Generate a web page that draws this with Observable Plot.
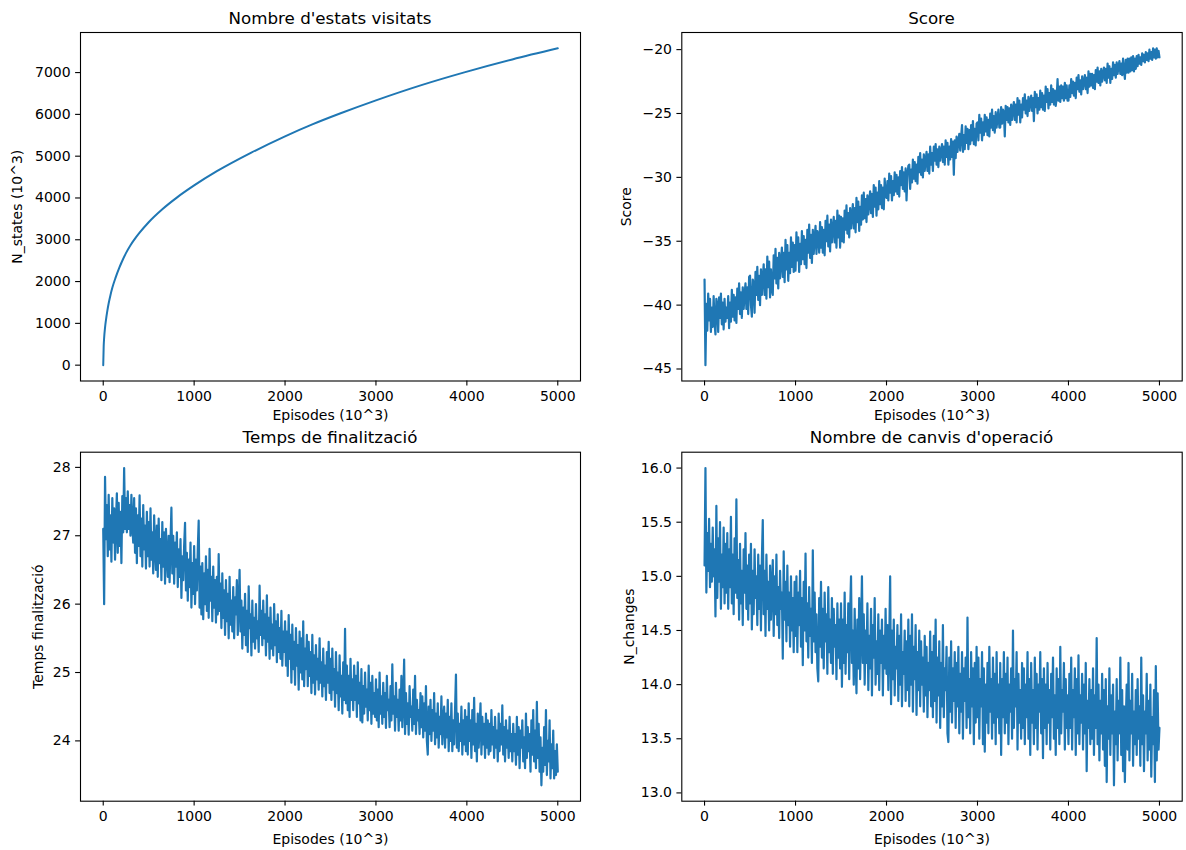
<!DOCTYPE html>
<html>
<head>
<meta charset="utf-8">
<script src="https://cdn.jsdelivr.net/npm/d3@7"></script>
<script src="https://cdn.jsdelivr.net/npm/@observablehq/plot@0.6"></script>
<style>
  body { margin: 0; background: #fff; }
  #page { position: relative; width: 1186px; height: 850px; overflow: hidden; background: #fff; font-family: "DejaVu Sans", sans-serif; }
  .title { position: absolute; font-size: 16.7px; line-height: 1; white-space: nowrap; transform: translateX(-50%); color: #000; }
  .panel { position: absolute; }
</style>
</head>
<body>
<div id="page"></div>
<script>
// ---------- data ----------
const xTicks = [0, 1000, 2000, 3000, 4000, 5000];
const xLabel = "Episodes (10^3)";

// Panel 1: Nombre d'estats visitats
const statesEpisodes = [0, 5, 10, 20, 30, 45, 60, 80, 100, 137, 175, 200, 250, 300, 344, 400, 500, 650, 813, 1000, 1250, 1629, 2000, 2300, 2604, 3000, 3500, 3972, 4500, 5000];
const statesValues   = [0, 450, 650, 900, 1080, 1300, 1480, 1680, 1850, 2100, 2320, 2450, 2680, 2870, 3010, 3170, 3420, 3730, 4015, 4300, 4640, 5085, 5475, 5760, 6020, 6335, 6700, 7005, 7315, 7580];
const statesTicks = [0, 1000, 2000, 3000, 4000, 5000, 6000, 7000];

// Panel 2: Score (one value every 10 episodes, 0..5000)
const scoreValues = [
  -38.0, -44.7, -39.9, -42.0, -39.1, -41.2, -39.5, -42.1, -40.2, -41.7, -39.3, -41.4, -42.3, -39.5, -40.0, -42.1, -39.4, -41.0, -39.1, -41.5, -39.8, -41.9, -39.5, -41.3, -40.2,
  -41.0, -39.3, -41.8, -39.8, -41.3, -38.8, -40.9, -39.2, -41.2, -39.4, -41.4, -38.7, -40.3, -38.3, -40.7, -39.0, -41.0, -38.6, -40.3, -39.2, -38.3, -40.3, -38.6, -40.7, -37.8,
  -37.7, -40.0, -40.9, -38.0, -38.3, -40.6, -37.4, -39.2, -37.0, -39.6, -37.7, -40.0, -37.2, -39.2, -37.9, -36.8, -39.2, -37.2, -39.5, -36.2, -38.6, -36.6, -39.4, -37.2, -38.8,
  -39.2, -36.1, -37.9, -35.6, -38.3, -36.3, -38.7, -35.9, -37.9, -36.6, -35.5, -37.8, -35.9, -38.2, -34.9, -37.2, -35.3, -38.1, -35.9, -37.5, -34.7, -37.0, -35.1, -37.4, -35.3,
  -37.3, -34.3, -36.5, -34.7, -37.4, -35.2, -36.8, -34.2, -36.4, -34.6, -36.8, -34.9, -37.1, -34.1, -35.9, -33.7, -36.3, -34.5, -36.7, -34.1, -36.0, -34.8, -33.8, -36.0, -34.2,
  -34.5, -35.9, -33.5, -35.5, -33.9, -35.9, -34.1, -36.1, -33.4, -35.0, -33.0, -35.4, -33.7, -35.8, -33.3, -35.1, -34.0, -33.1, -35.1, -33.4, -35.5, -32.6, -34.7, -33.0, -35.5,
  -33.1, -35.0, -33.2, -35.1, -32.6, -34.1, -32.2, -34.4, -32.8, -34.7, -32.4, -34.0, -33.0, -32.1, -34.0, -32.4, -34.3, -31.6, -33.5, -31.9, -34.2, -32.3, -33.7, -31.4, -33.3,
  -31.2, -33.2, -31.7, -33.5, -31.4, -32.9, -31.9, -31.1, -32.8, -31.3, -33.1, -30.6, -32.3, -30.8, -33.0, -31.2, -32.5, -30.3, -32.1, -30.6, -32.4, -30.8, -32.5, -30.1, -31.5,
  -31.6, -30.3, -31.8, -29.7, -31.2, -29.9, -31.8, -30.3, -31.4, -29.6, -31.1, -29.8, -31.3, -30.0, -31.5, -29.5, -30.6, -29.2, -30.9, -29.6, -31.1, -29.3, -31.8, -29.8, -29.1,
  -29.0, -30.9, -29.4, -30.4, -28.6, -30.1, -28.8, -30.3, -29.0, -30.5, -28.4, -29.6, -28.1, -29.8, -28.6, -30.0, -28.2, -29.5, -28.7, -28.0, -29.5, -28.2, -29.7, -27.6, -29.0,
  -28.1, -29.5, -27.6, -28.7, -27.4, -29.0, -27.8, -29.2, -27.6, -28.7, -28.0, -27.4, -28.8, -27.6, -29.0, -27.1, -28.4, -27.3, -29.0, -27.6, -28.6, -27.0, -28.4, -27.2, -29.8,
  -27.1, -28.5, -26.8, -28.0, -27.2, -26.6, -27.9, -26.8, -25.9, -28.0, -26.7, -27.8, -26.0, -27.3, -26.2, -27.8, -26.3, -27.4, -25.9, -27.1, -25.6, -27.4, -26.2, -27.5, -25.8,
  -25.7, -27.1, -25.1, -26.5, -25.4, -27.1, -25.7, -26.7, -25.1, -26.4, -25.3, -26.7, -25.5, -26.8, -25.0, -26.1, -24.7, -26.3, -25.2, -26.5, -24.9, -26.1, -25.4, -24.7, -26.1,
  -26.1, -24.5, -25.8, -24.7, -24.9, -26.8, -24.4, -25.5, -24.5, -25.7, -24.6, -25.9, -24.3, -25.5, -24.7, -24.1, -25.5, -24.3, -25.7, -23.8, -25.1, -24.0, -25.7, -24.3, -25.3,
  -23.8, -24.7, -23.5, -25.0, -24.0, -25.2, -23.7, -24.8, -24.1, -23.6, -24.8, -23.8, -25.6, -23.3, -24.5, -23.5, -25.0, -23.8, -24.7, -23.2, -24.5, -23.4, -24.7, -23.6, -24.8,
  -22.9, -24.1, -23.1, -24.6, -23.4, -24.3, -22.8, -24.1, -23.1, -24.3, -23.2, -24.4, -23.8, -22.3, -24.0, -22.9, -24.1, -22.8, -23.8, -22.9, -24.0, -22.6, -23.8, -22.8, -24.0,
  -24.0, -22.8, -23.7, -22.3, -23.4, -22.5, -23.6, -22.6, -23.8, -22.2, -23.1, -22.0, -23.3, -22.4, -23.5, -22.1, -23.1, -22.5, -22.0, -23.1, -22.2, -23.4, -21.7, -22.9, -21.9,
  -22.8, -21.9, -23.0, -22.0, -23.1, -21.6, -22.5, -21.4, -22.6, -21.7, -22.8, -21.5, -22.5, -21.9, -21.4, -22.4, -21.5, -22.6, -21.1, -22.2, -21.3, -22.6, -21.5, -22.3, -21.0,
  -22.0, -21.2, -22.2, -21.0, -21.9, -21.3, -20.9, -21.9, -21.1, -22.0, -20.7, -21.6, -22.3, -20.8, -21.8, -20.7, -21.8, -20.7, -21.7, -20.6, -21.6, -20.5, -21.7, -20.7, -21.5,
  -20.5, -21.3, -20.4, -21.1, -20.6, -21.2, -20.3, -20.9, -20.4, -21.0, -20.2, -20.8, -20.3, -20.9, -20.0, -20.7, -20.2, -20.8, -19.9, -20.6, -20.0, -20.7, -19.9, -20.6, -20.1,
  -20.6
];
const scoreTicks = [-45, -40, -35, -30, -25, -20];

// Panel 3: Temps de finalització (one value every 10 episodes)
const tempsValues = [
  27.10, 26.00, 27.86, 26.95, 27.45, 26.70, 27.60, 26.80, 27.30, 26.62, 27.55, 26.90, 27.40, 26.65, 27.20, 27.62, 26.75, 27.48, 26.85, 27.35, 26.60, 27.58, 27.05, 27.99, 27.10,
  27.55, 27.05, 27.65, 27.10, 27.45, 27.00, 27.60, 27.15, 26.90, 27.55, 26.75, 27.40, 26.60, 27.30, 26.85, 27.59, 26.70, 27.25, 26.55, 27.45, 26.80, 27.15, 26.52, 27.35, 26.70,
  27.20, 26.55, 27.40, 26.65, 27.05, 26.45, 27.30, 26.80, 26.50, 27.15, 26.40, 27.25, 26.60, 26.95, 26.35, 27.20, 26.55, 27.05, 26.30, 27.10, 26.70, 26.40, 27.00, 26.32, 26.90,
  27.41, 26.45, 27.00, 26.30, 26.90, 26.55, 27.05, 26.25, 26.80, 26.40, 26.95, 26.09, 26.70, 26.35, 26.85, 27.19, 26.20, 26.75, 26.05, 26.65, 26.25, 26.90, 25.95, 26.60, 26.15,
  26.85, 26.00, 26.65, 26.20, 26.80, 27.22, 25.95, 26.55, 25.85, 26.60, 25.78, 26.45, 26.00, 26.70, 25.90, 26.50, 25.80, 26.81, 26.05, 26.40, 25.75, 26.55, 25.95, 26.35, 25.73,
  26.40, 25.85, 26.73, 25.90, 26.30, 25.65, 26.45, 25.80, 26.20, 25.55, 26.35, 25.75, 26.15, 25.50, 26.40, 25.70, 26.05, 25.60, 26.25, 25.50, 26.10, 25.85, 26.35, 25.55, 26.00,
  26.50, 25.60, 26.05, 25.35, 25.95, 25.55, 26.15, 25.40, 25.90, 25.30, 26.26, 25.65, 25.85, 25.25, 26.05, 25.45, 25.80, 25.35, 26.00, 25.50, 25.75, 25.30, 26.27, 25.55, 25.90,
  25.40, 26.05, 25.50, 25.85, 25.25, 26.13, 25.45, 25.80, 25.20, 25.95, 25.35, 25.70, 25.25, 26.00, 25.40, 25.75, 25.15, 25.85, 25.30, 25.65, 25.20, 25.90, 25.10, 25.60, 25.30,
  25.75, 25.10, 25.60, 24.95, 25.84, 25.20, 25.55, 24.85, 25.70, 25.05, 25.45, 24.82, 25.65, 25.10, 25.40, 24.75, 25.60, 25.00, 25.50, 24.90, 25.75, 24.80, 25.35, 25.05, 25.55,
  24.80, 25.45, 24.95, 25.30, 24.70, 25.55, 24.85, 25.25, 24.68, 25.40, 24.90, 25.20, 24.75, 25.50, 24.85, 25.15, 24.65, 25.35, 24.80, 25.10, 24.60, 25.30, 24.85, 25.45, 24.70,
  25.20, 24.60, 25.35, 24.75, 25.05, 24.50, 25.30, 24.70, 25.00, 24.45, 25.25, 24.65, 24.95, 24.40, 25.15, 24.60, 25.64, 24.55, 25.10, 24.45, 24.95, 24.35, 25.20, 24.60, 24.90,
  24.45, 25.10, 24.60, 24.95, 24.35, 25.15, 24.55, 24.85, 24.30, 25.05, 24.27, 24.80, 24.40, 25.00, 24.50, 24.75, 24.30, 25.10, 24.45, 24.85, 24.25, 24.95, 24.40, 24.70, 24.35,
  24.90, 24.30, 24.75, 24.20, 25.00, 24.40, 24.65, 24.25, 24.85, 24.35, 24.70, 24.19, 24.95, 24.45, 24.60, 24.20, 24.80, 24.30, 25.12, 24.40, 24.65, 24.15, 24.85, 24.35, 24.60,
  24.15, 24.75, 24.30, 24.95, 24.20, 24.60, 25.19, 24.10, 24.70, 24.25, 24.55, 24.09, 24.80, 24.35, 24.50, 24.15, 24.75, 24.25, 24.95, 24.10, 24.60, 24.30, 24.45, 24.10, 24.70,
  24.20, 24.65, 24.05, 24.55, 24.15, 24.80, 24.00, 23.80, 24.50, 24.10, 24.60, 24.00, 24.45, 24.15, 24.70, 23.95, 24.40, 24.05, 24.55, 23.90, 24.35, 24.10, 24.65, 23.95, 24.30,
  24.50, 23.90, 24.40, 24.05, 24.60, 23.85, 24.35, 24.00, 24.55, 23.85, 24.30, 23.95, 24.45, 24.97, 23.90, 24.40, 23.85, 24.25, 24.00, 24.50, 23.80, 24.30, 23.95, 24.45, 23.85,
  24.35, 23.80, 24.55, 24.00, 24.30, 23.75, 24.45, 23.95, 24.63, 23.85, 24.25, 23.70, 24.40, 23.90, 24.20, 24.55, 23.80, 24.35, 23.95, 24.25, 23.75, 24.40, 23.90, 24.30, 23.80,
  24.25, 23.85, 24.45, 23.95, 24.20, 23.75, 24.35, 23.90, 24.15, 23.70, 24.40, 23.85, 24.25, 23.95, 24.52, 23.80, 24.20, 23.70, 24.30, 23.90, 24.15, 23.75, 24.35, 23.85, 24.10,
  23.70, 24.25, 23.85, 24.10, 23.65, 24.35, 23.80, 24.20, 23.60, 24.15, 23.90, 24.30, 23.70, 24.05, 23.60, 24.40, 23.75, 24.20, 23.85, 24.10, 23.55, 24.30, 23.80, 24.45, 23.70,
  24.15, 23.60, 24.57, 23.75, 24.25, 23.55, 24.05, 23.35, 23.90, 23.55, 24.20, 23.65, 24.45, 23.50, 24.00, 23.70, 24.30, 23.45, 23.95, 23.60, 24.15, 23.45, 23.85, 23.50, 23.95,
  23.55
];
const tempsTicks = [24, 25, 26, 27, 28];

// Panel 4: Nombre de canvis d'operació (one value every 10 episodes)
const changesValues = [
  15.10, 16.00, 14.85, 15.40, 15.05, 15.53, 14.90, 15.30, 14.95, 15.45, 15.00, 15.25, 14.63, 15.65, 14.80, 15.35, 14.95, 15.50, 14.70, 15.20, 14.90, 15.45, 14.75, 15.30, 14.85,
  15.40, 14.70, 15.25, 14.90, 15.55, 14.75, 15.20, 14.65, 15.35, 14.85, 15.71, 14.80, 15.15, 14.60, 15.30, 14.75, 15.05, 14.55, 15.25, 14.85, 15.40, 14.70, 15.10, 14.60, 15.20,
  14.75, 15.30, 14.51, 15.05, 14.65, 15.25, 14.80, 15.00, 14.55, 15.20, 14.70, 15.10, 14.50, 15.15, 15.52, 14.65, 15.05, 14.45, 15.20, 14.70, 14.95, 14.50, 15.10, 14.60, 14.90,
  15.15, 14.45, 15.00, 14.65, 15.20, 14.55, 14.90, 14.43, 15.05, 14.70, 14.85, 14.24, 15.23, 14.60, 14.95, 14.40, 15.10, 14.55, 14.85, 14.35, 15.00, 14.50, 14.80, 14.30, 14.95,
  14.45, 15.00, 14.30, 14.85, 14.55, 15.05, 14.35, 14.80, 14.18, 14.95, 14.50, 15.21, 14.40, 14.75, 14.25, 14.90, 14.45, 14.70, 14.20, 15.24, 14.40, 14.85, 14.30, 14.65, 14.15,
  14.03, 14.80, 14.35, 14.95, 14.25, 14.70, 14.15, 14.85, 14.40, 14.65, 14.10, 14.90, 14.30, 14.60, 14.20, 14.80, 14.10, 14.70, 14.35, 14.55, 14.05, 14.75, 14.25, 14.60, 14.15,
  14.75, 13.98, 14.60, 14.20, 14.85, 14.10, 14.55, 14.30, 14.75, 14.05, 14.65, 15.00, 14.20, 14.50, 14.00, 14.70, 14.25, 13.92, 14.60, 14.15, 14.80, 14.05, 14.50, 15.00, 14.20,
  14.65, 14.00, 14.50, 14.20, 14.75, 13.95, 14.45, 14.15, 14.70, 13.90, 14.55, 14.25, 14.80, 14.00, 14.40, 14.10, 14.65, 13.95, 14.50, 14.20, 14.60, 13.90, 14.45, 14.15, 14.70,
  14.10, 14.55, 13.95, 14.40, 15.00, 13.82, 14.50, 14.05, 14.60, 13.90, 14.35, 14.15, 14.55, 13.85, 14.45, 14.00, 14.65, 13.80, 14.30, 14.10, 14.50, 13.85, 14.40, 13.95, 14.60,
  13.80, 14.45, 14.00, 14.65, 13.75, 14.35, 14.05, 14.55, 13.72, 14.30, 13.95, 14.50, 13.80, 14.40, 14.00, 14.25, 13.75, 14.45, 13.90, 14.35, 13.70, 14.20, 13.95, 14.49, 13.80,
  14.30, 13.70, 14.45, 13.85, 14.60, 13.65, 14.25, 13.90, 14.40, 13.60, 14.20, 13.80, 14.55, 13.70, 14.15, 13.95, 14.35, 13.55, 13.47, 14.25, 13.75, 14.40, 13.65, 14.15, 13.85,
  14.30, 13.60, 14.20, 13.80, 14.35, 13.55, 14.10, 13.75, 14.30, 13.50, 14.15, 13.85, 14.25, 13.60, 14.62, 13.70, 14.05, 13.55, 14.30, 13.80, 14.15, 13.45, 14.20, 13.65, 14.35,
  13.70, 14.25, 13.50, 14.05, 13.80, 14.30, 13.45, 14.15, 13.38, 14.00, 13.65, 14.20, 13.55, 14.35, 13.75, 14.05, 13.50, 14.25, 13.65, 14.10, 13.45, 14.30, 13.70, 14.00, 13.55,
  14.20, 13.35, 14.05, 13.70, 14.30, 13.55, 14.10, 13.65, 14.25, 13.45, 14.00, 13.75, 14.15, 13.50, 14.50, 13.60, 14.05, 13.80, 14.30, 13.40, 14.10, 13.65, 13.95, 13.50, 14.20,
  13.60, 14.15, 13.45, 14.00, 13.70, 14.30, 13.50, 14.05, 13.35, 14.20, 13.65, 13.95, 13.45, 14.25, 13.60, 14.10, 13.40, 14.00, 13.75, 14.30, 13.55, 14.05, 13.32, 14.15, 13.60,
  14.00, 13.45, 14.20, 13.65, 13.95, 13.40, 14.10, 13.70, 14.25, 13.50, 13.90, 13.35, 14.15, 13.60, 14.05, 13.45, 14.35, 13.55, 13.95, 13.75, 14.20, 13.40, 14.05, 13.60, 13.90,
  13.45, 14.10, 13.60, 14.25, 13.40, 13.95, 13.70, 14.15, 13.35, 14.05, 13.55, 14.27, 13.45, 13.90, 13.65, 14.10, 13.40, 14.00, 13.55, 14.20, 13.20, 13.85, 13.60, 14.05, 13.45,
  13.95, 13.50, 14.15, 13.35, 13.90, 13.60, 14.43, 13.45, 14.00, 13.30, 13.85, 13.55, 14.10, 13.40, 13.95, 13.25, 14.05, 13.10, 13.80, 13.50, 14.15, 13.35, 13.90, 13.55, 14.00,
  13.07, 13.75, 13.45, 14.05, 13.30, 13.85, 13.55, 14.25, 13.35, 13.95, 13.20, 13.80, 13.10, 13.65, 14.00, 13.40, 14.20, 13.30, 13.85, 13.55, 14.10, 13.25, 13.75, 13.45, 13.95,
  13.35, 14.05, 13.50, 13.80, 13.25, 14.25, 13.45, 13.90, 13.20, 13.75, 13.55, 14.10, 13.30, 13.85, 13.40, 14.00, 13.15, 13.70, 13.45, 13.95, 13.10, 14.17, 13.30, 13.92, 13.40,
  13.60
];
const changesTicks = [13.0, 13.5, 14.0, 14.5, 15.0, 15.5, 16.0];

// ---------- drawing ----------
const page = document.getElementById("page");
const LINE = "#1f77b4";

function episodesFor(values) {
  return values.map((_, i) => i * 5000 / (values.length - 1));
}

function addTitle(text, cx, top) {
  const d = document.createElement("div");
  d.className = "title";
  d.textContent = text;
  d.style.left = cx + "px";
  d.style.top = top + "px";
  page.appendChild(d);
}

function makePanel(cfg) {
  const data = cfg.x.map((x, i) => ({x, y: cfg.y[i]}));
  const [x0, x1] = d3.extent(cfg.x);
  const [y0, y1] = d3.extent(cfg.y);
  const px = (x1 - x0) * 0.05, py = (y1 - y0) * 0.05;
  const svg = Plot.plot({
    width: cfg.w, height: cfg.h,
    marginTop: cfg.mt, marginRight: cfg.mr, marginBottom: cfg.mb, marginLeft: cfg.ml,
    style: {fontFamily: "DejaVu Sans", fontSize: "14px", color: "#000", background: "transparent", overflow: "visible"},
    x: {domain: [x0 - px, x1 + px]},
    y: {domain: [y0 - py, y1 + py]},
    marks: [
      Plot.line(data, {x: "x", y: "y", stroke: LINE, strokeWidth: cfg.sw || 2, curve: cfg.curve || "linear"}),
      Plot.frame({stroke: "#000", strokeWidth: 1.1}),
      Plot.axisX({ticks: xTicks, tickFormat: "d", tickSize: 4.9, tickPadding: 4.9, strokeWidth: 1.1,
        label: xLabel, labelAnchor: "center", labelArrow: "none", labelOffset: cfg.xlo}),
      Plot.axisY({ticks: cfg.yTicks, tickFormat: cfg.fmt, tickSize: 4.9, tickPadding: 4.9, strokeWidth: 1.1,
        label: cfg.ylabel, labelAnchor: "center", labelArrow: "none", labelOffset: cfg.ylo})
    ]
  });
  svg.classList.add("panel");
  svg.style.left = cfg.left + "px";
  svg.style.top = cfg.top + "px";
  page.appendChild(svg);
}

// top-left
makePanel({x: statesEpisodes, y: statesValues, curve: "monotone-x", yTicks: statesTicks, fmt: "d", sw: 2,
  ylabel: "N_states (10^3)", left: 0, top: 28, w: 593, h: 397, mt: 4, mr: 13, mb: 44.5, ml: 80, xlo: 38.5, ylo: 68});
addTitle("Nombre d'estats visitats", 330, 9.6);

// top-right
makePanel({x: episodesFor(scoreValues), y: scoreValues, yTicks: scoreTicks, fmt: "d", sw: 2.2,
  ylabel: "Score", left: 593, top: 28, w: 593, h: 397, mt: 4, mr: 4.3, mb: 44.5, ml: 88.3, xlo: 38.5, ylo: 61});
addTitle("Score", 931.5, 9.6);

// bottom-left
makePanel({x: episodesFor(tempsValues), y: tempsValues, yTicks: tempsTicks, fmt: "d", sw: 2.2,
  ylabel: "Temps finalització", left: 0, top: 448, w: 593, h: 402, mt: 3.7, mr: 13, mb: 49.3, ml: 80, xlo: 42.6, ylo: 47});
addTitle("Temps de finalització", 330, 429.3);

// bottom-right
makePanel({x: episodesFor(changesValues), y: changesValues, yTicks: changesTicks, fmt: ".1f", sw: 2.2,
  ylabel: "N_changes", left: 593, top: 448, w: 593, h: 402, mt: 3.7, mr: 4.3, mb: 49.3, ml: 88.3, xlo: 42.6, ylo: 58});
addTitle("Nombre de canvis d'operació", 931.5, 429.3);
</script>
</body>
</html>
